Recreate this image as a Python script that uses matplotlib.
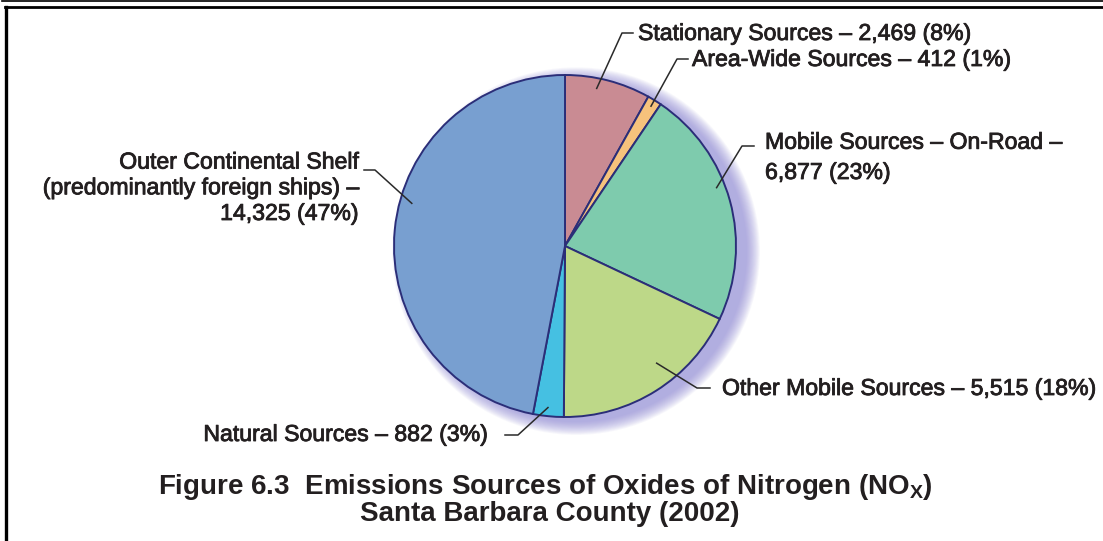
import numpy as np
import matplotlib.pyplot as plt
import matplotlib.patheffects as pe
from matplotlib.patches import Circle
from matplotlib.lines import Line2D
from matplotlib.transforms import IdentityTransform

plt.rcParams['font.family'] = ['Liberation Sans', 'DejaVu Sans']
plt.rcParams['mathtext.fontset'] = 'custom'
plt.rcParams['mathtext.bf'] = 'Liberation Sans:bold'
plt.rcParams['mathtext.rm'] = 'Liberation Sans'

# NOx emissions by source, tons per year (2002)
sources = ['Stationary Sources', 'Area-Wide Sources', 'Mobile Sources – On-Road –\n',
           'Other Mobile Sources', 'Natural Sources',
           'Outer Continental Shelf\n(predominantly foreign ships) –\n']
tons = [2469, 412, 6877, 5515, 882, 14325]
percents = [8, 1, 23, 18, 3, 47]
colors = ['#c98b93', '#f6c27c', '#7ecbad', '#bdd888', '#45c0e2', '#789fd0']

W, H = 1103, 541
fig = plt.figure(figsize=(W / 100, H / 100), dpi=100)
px = IdentityTransform()
ink = '#231f20'
heavy = [pe.withStroke(linewidth=0.6, foreground=ink)]

# pie centre and radius in pixels (from top-left)
cx, cy, R = 565, 246, 171
ax = fig.add_axes([(cx - R) / W, (H - cy - R) / H, 2 * R / W, 2 * R / H])
wedges, _ = ax.pie(tons, colors=colors, startangle=90, counterclock=False,
                   radius=1, wedgeprops=dict(edgecolor='#2b2e78', linewidth=1.4))
ax.set_xlim(-1, 1)
ax.set_ylim(-1, 1)
ax.axis('off')

# soft lavender glow falling to the right of the pie
for k in range(16):
    ax.add_patch(Circle((0.065, -0.03), 1.0 + 0.005 * k, color='#8a84d4',
                        alpha=0.06, lw=0, zorder=0, clip_on=False))
for w in wedges:
    w.set_zorder(2)

# label layout: text x, baseline of last line, alignment, line spacing,
# leader tick start, leader corner, tip (fraction along wedge clockwise, radius)
layout = [
    dict(x=638, y=40, ha='left', ls=1.2, tick=(633, 33), corner=(622, 33), tip=(0.39, 0.94)),
    dict(x=692, y=66, ha='left', ls=1.2, tick=(688, 59), corner=(677, 59), tip=(0.5, 0.96)),
    dict(x=765, y=179, ha='left', ls=1.4, tick=(754, 146), corner=(742, 146), tip=(0.43, 0.95)),
    dict(x=722, y=395, ha='left', ls=1.2, tick=(710, 388), corner=(697, 388), tip=(0.41, 0.87)),
    dict(x=487, y=441, ha='right', ls=1.2, tick=(505, 435), corner=(518, 435), tip=(0.54, 0.95)),
    dict(x=358, y=220, ha='right', ls=1.15, tick=(364, 170), corner=(375, 170), tip=(0.56, 0.93)),
]

for name, t, p, w, lay in zip(sources, tons, percents, wedges, layout):
    sep = '' if name.endswith('\n') else ' – '
    label = f'{name}{sep}{t:,} ({p}%)'
    fig.text(lay['x'], H - lay['y'], label, transform=px,
             ha=lay['ha'], va='baseline', fontsize=16.6, color=ink,
             linespacing=lay['ls'], multialignment=lay['ha'], path_effects=heavy)
    frac, r = lay['tip']
    ang = np.deg2rad(w.theta2 - frac * (w.theta2 - w.theta1))
    tx, ty = ax.transData.transform((r * np.cos(ang), r * np.sin(ang)))
    xs = [lay['tick'][0], lay['corner'][0], tx]
    ys = [H - lay['tick'][1], H - lay['corner'][1], ty]
    fig.add_artist(Line2D(xs, ys, transform=px, color='#2a2a2a', lw=1.1, zorder=5))

# title
fig.text(545, H - 494, r'Figure 6.3  Emissions Sources of Oxides of Nitrogen (NO$_{\mathbf{X}}$)',
         transform=px, ha='center', va='baseline',
         fontsize=20, fontweight='bold', color=ink)
fig.text(550, H - 521, 'Santa Barbara County (2002)', transform=px,
         ha='center', va='baseline', fontsize=20, fontweight='bold', color=ink)

# page frame: double rule at top, heavy rule on the left
fig.add_artist(Line2D([2, W], [H - 1, H - 1], transform=px, color='black', lw=1.2))
fig.add_artist(Line2D([5, W], [H - 7, H - 7], transform=px, color='black', lw=2.0))
fig.add_artist(Line2D([6, 6], [H - 7, 0], transform=px, color='black', lw=2.4))

fig.savefig('out.png', dpi=100)
